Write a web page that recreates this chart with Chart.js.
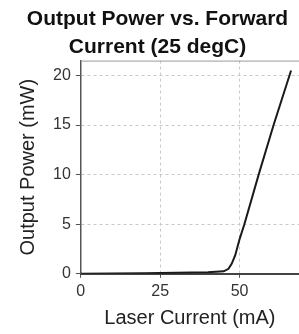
<!DOCTYPE html>
<html>
<head>
<meta charset="utf-8">
<script src="https://cdn.jsdelivr.net/npm/chart.js@4/dist/chart.umd.min.js"></script>
<style>
  html, body { margin: 0; padding: 0; background: #fff; }
  #wrap { width: 299px; height: 334px; }
</style>
</head>
<body>
<div id="wrap"><canvas id="powerCanvas"></canvas></div>
<script>
// laser current (mA) and output power (mW)
const current = [0, 20, 40, 45, 46.5, 47.5, 48.6, 50, 51.5, 56, 60.7, 65.7, 66.2];
const power = [0, 0.05, 0.15, 0.25, 0.5, 1.0, 1.85, 3.5, 5.0, 10.0, 15.0, 20.0, 20.5];
const xTicks = [0, 25, 50];
const yTicks = [0, 5, 10, 15, 20];

const topBorder = {
    id: 'topBorder',
    afterDraw(chart) {
        const ctx = chart.ctx, a = chart.chartArea;
        ctx.save();
        ctx.strokeStyle = '#9a9a9a';
        ctx.lineWidth = 1;
        ctx.beginPath();
        ctx.moveTo(a.left, a.top + 0.5);
        ctx.lineTo(a.right, a.top + 0.5);
        ctx.stroke();
        ctx.restore();
    }
};

const powerChart = new Chart(document.getElementById('powerCanvas').getContext('2d'), {
    type: 'scatter',
    data: {
        datasets: [{
            data: current.map((c, i) => ({ x: c, y: power[i] })),
            showLine: true,
            borderColor: '#1a1a1a',
            borderWidth: 2,
            pointRadius: 0,
            tension: 0
        }]
    },
    options: {
        responsive: true,
        maintainAspectRatio: false,
        animation: false,
        layout: { padding: { left: 16, right: 0, top: 3, bottom: 4 } },
        plugins: {
            legend: { display: false },
            tooltip: { enabled: false },
            title: {
                display: true,
                text: ['Output Power vs. Forward', 'Current (25 degC)'],
                color: '#111',
                font: { family: 'Liberation Sans', size: 21, weight: 'bold', lineHeight: 1.3 },
                padding: { top: 3, bottom: 0 }
            }
        },
        scales: {
            x: {
                type: 'linear',
                min: 0,
                max: 68.7,
                afterBuildTicks: (s) => { s.ticks = xTicks.map(v => ({ value: v })); },
                ticks: { color: '#333', font: { family: 'Liberation Sans', size: 16 }, padding: 4 },
                grid: { color: '#c8c8c8', tickColor: '#555', tickLength: 4 },
                border: { display: true, color: '#444', width: 2, dash: [3, 3] },
                title: { display: true, text: 'Laser Current (mA)', color: '#222', font: { family: 'Liberation Sans', size: 20 }, padding: { top: 1, bottom: 0 } }
            },
            y: {
                min: 0,
                max: 21.5,
                afterBuildTicks: (s) => { s.ticks = yTicks.map(v => ({ value: v })); },
                ticks: { color: '#333', font: { family: 'Liberation Sans', size: 16 }, padding: 5 },
                grid: { color: '#c8c8c8', tickColor: '#555', tickLength: 5 },
                border: { display: true, color: '#555', width: 1.5, dash: [3, 3] },
                title: { display: true, text: 'Output Power (mW)', color: '#222', font: { family: 'Liberation Sans', size: 20 }, padding: { top: 0, bottom: 8 } }
            }
        }
    },
    plugins: [topBorder]
});
</script>
</body>
</html>
